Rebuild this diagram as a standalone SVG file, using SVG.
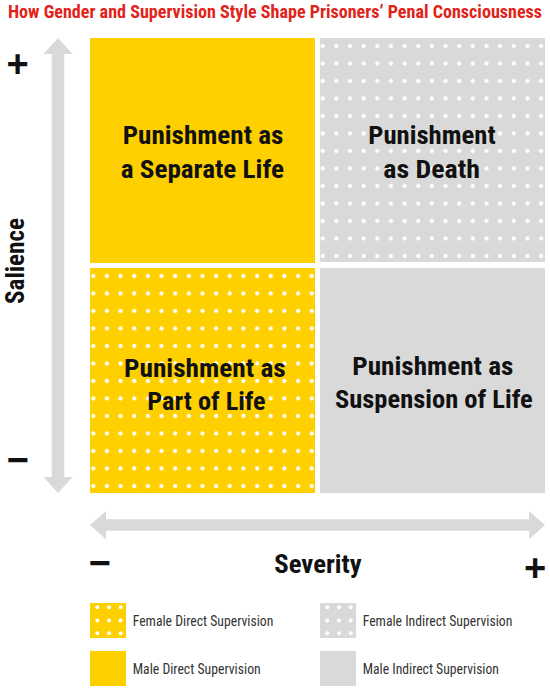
<svg xmlns="http://www.w3.org/2000/svg" width="550" height="689" viewBox="0 0 550 689">
<style>
.t{font-family:"Liberation Sans Narrow","Roboto Condensed","DejaVu Sans Condensed","Liberation Sans",sans-serif;font-weight:bold;fill:#111;}
.q{font-size:26.5px;}
.lg{font-family:"Liberation Sans Narrow","Roboto Condensed","Liberation Sans",sans-serif;font-size:15.5px;fill:#333;}
.sym{font-family:"Liberation Sans",Arial,sans-serif;font-weight:bold;font-size:38px;fill:#111;text-anchor:middle;}
.yel{fill:#FFD000;}
.gry{fill:#D9D9D9;}
.arr{fill:#D9D9D9;}
</style>
<defs>
<pattern id="dotsY" patternUnits="userSpaceOnUse" x="0" y="0" width="13.65" height="17.5">
<rect width="13.65" height="17.5" fill="#FFD000"/>
<circle cx="3.3" cy="8" r="2.1" fill="#fff"/>
</pattern>
<pattern id="dotsG" patternUnits="userSpaceOnUse" x="0" y="0" width="13.65" height="17.5">
<rect width="13.65" height="17.5" fill="#D9D9D9"/>
<circle cx="2.7" cy="8" r="2.1" fill="#fff"/>
</pattern>
</defs>
<rect width="550" height="689" fill="#fff"/>
<text x="8" y="17.5" font-family="Liberation Sans Narrow,Roboto Condensed,Liberation Sans,sans-serif" font-weight="bold" font-size="18" fill="#E2231A" textLength="534" lengthAdjust="spacingAndGlyphs">How Gender and Supervision Style Shape Prisoners’ Penal Consciousness</text>

<g id="q-separate-life">
<rect class="yel" x="90" y="38" width="225" height="225"/>
<text class="t q" x="122.7" y="144.3" textLength="160.6" lengthAdjust="spacingAndGlyphs">Punishment as</text>
<text class="t q" x="120.7" y="177.7" textLength="163.3" lengthAdjust="spacingAndGlyphs">a Separate Life</text>
</g>
<g id="q-death">
<rect x="0" y="0" width="225" height="224" fill="url(#dotsG)" transform="translate(320,38)"/>
<text class="t q" x="368.3" y="143.5" textLength="127.4" lengthAdjust="spacingAndGlyphs">Punishment</text>
<text class="t q" x="383.3" y="177.7" textLength="96.7" lengthAdjust="spacingAndGlyphs">as Death</text>
</g>
<g id="q-part-of-life">
<rect x="0" y="0" width="225" height="225" fill="url(#dotsY)" transform="translate(90,268)"/>
<text class="t q" x="124" y="376.7" textLength="161.7" lengthAdjust="spacingAndGlyphs">Punishment as</text>
<text class="t q" x="147.3" y="410" textLength="118.4" lengthAdjust="spacingAndGlyphs">Part of Life</text>
</g>
<g id="q-suspension">
<rect class="gry" x="320" y="268" width="225" height="225"/>
<text class="t q" x="352.3" y="375" textLength="161" lengthAdjust="spacingAndGlyphs">Punishment as</text>
<text class="t q" x="335" y="408.3" textLength="197.7" lengthAdjust="spacingAndGlyphs">Suspension of Life</text>
</g>

<g id="axes">
<polygon class="arr" points="58,38 72.5,54 64.3,54 64.3,477 72.5,477 58,493 43.5,477 51.7,477 51.7,54 43.5,54"/>
<polygon class="arr" points="90,525 106,511 106,519.2 529,519.2 529,511 545,525 529,539.3 529,530.8 106,530.8 106,539.3"/>
</g>

<g id="axis-labels">
<text class="t" transform="translate(24,261) rotate(-90)" font-size="25" text-anchor="middle" textLength="86" lengthAdjust="spacingAndGlyphs">Salience</text>
<text class="t" x="274.3" y="573.3" font-size="26" textLength="87.4" lengthAdjust="spacingAndGlyphs">Severity</text>
<text class="sym" x="17.5" y="76.5">+</text>
<text class="sym" x="17.5" y="472.5">−</text>
<text class="sym" x="99.5" y="575.5">−</text>
<text class="sym" x="535" y="580.5">+</text>
</g>

<g id="legend-female-direct">
<rect class="yel" x="90" y="603" width="36" height="35"/>
<g fill="#fff">
<circle cx="97.3" cy="607.3" r="2"/><circle cx="109" cy="607.3" r="2"/><circle cx="120.7" cy="607.3" r="2"/>
<circle cx="97.3" cy="620.5" r="2"/><circle cx="109" cy="620.5" r="2"/><circle cx="120.7" cy="620.5" r="2"/>
<circle cx="97.3" cy="633.3" r="2"/><circle cx="109" cy="633.3" r="2"/><circle cx="120.7" cy="633.3" r="2"/>
</g>
<text class="lg" x="132.7" y="626" textLength="140.7" lengthAdjust="spacingAndGlyphs">Female Direct Supervision</text>
</g>
<g id="legend-female-indirect">
<rect class="gry" x="320" y="603" width="36" height="35"/>
<g fill="#fff">
<circle cx="327.3" cy="607.3" r="2"/><circle cx="339" cy="607.3" r="2"/><circle cx="350.7" cy="607.3" r="2"/>
<circle cx="327.3" cy="620.5" r="2"/><circle cx="339" cy="620.5" r="2"/><circle cx="350.7" cy="620.5" r="2"/>
<circle cx="327.3" cy="633.3" r="2"/><circle cx="339" cy="633.3" r="2"/><circle cx="350.7" cy="633.3" r="2"/>
</g>
<text class="lg" x="362.7" y="626" textLength="149.7" lengthAdjust="spacingAndGlyphs">Female Indirect Supervision</text>
</g>
<g id="legend-male-direct">
<rect class="yel" x="90" y="651" width="36" height="35"/>
<text class="lg" x="132.7" y="674" textLength="128" lengthAdjust="spacingAndGlyphs">Male Direct Supervision</text>
</g>
<g id="legend-male-indirect">
<rect class="gry" x="320" y="651" width="36" height="35"/>
<text class="lg" x="362.7" y="674" textLength="136.3" lengthAdjust="spacingAndGlyphs">Male Indirect Supervision</text>
</g>
</svg>
